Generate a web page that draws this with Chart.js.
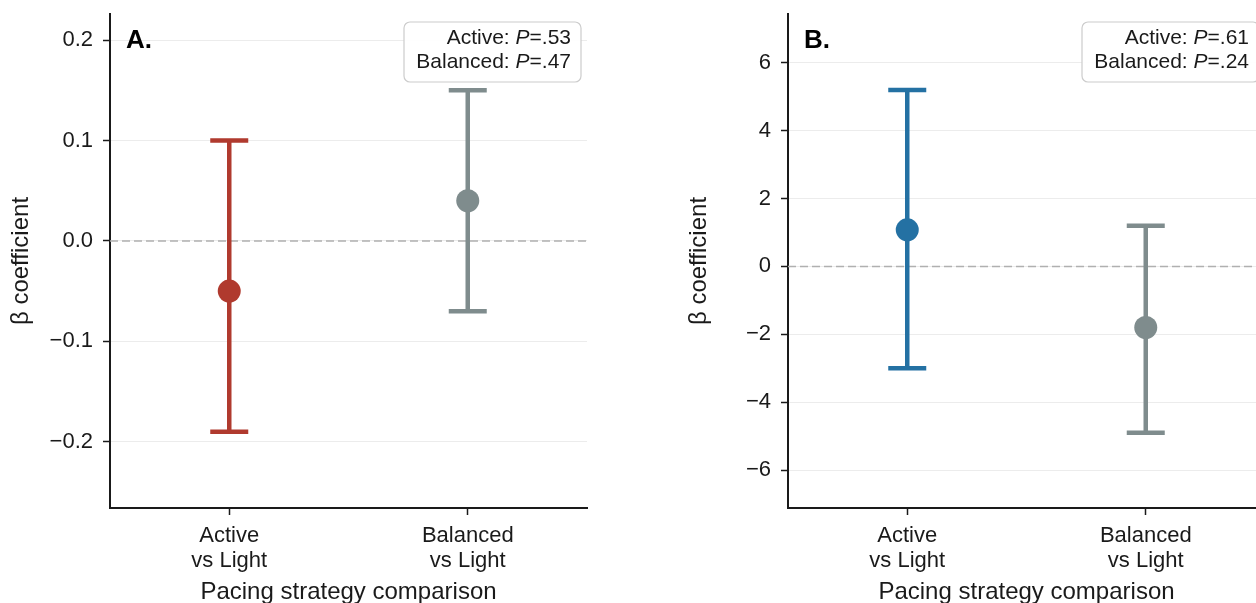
<!DOCTYPE html>
<html>
<head>
<meta charset="utf-8">
<script src="https://cdn.jsdelivr.net/npm/chart.js@4"></script>
<style>
  html, body { margin: 0; padding: 0; background: #fff; overflow: hidden; }
  body { width: 1256px; height: 603px; position: relative; }
  .panel { position: absolute; top: 0; width: 600px; height: 603px; }
  #panel-a { left: 0; }
  #panel-b { left: 678px; }
</style>
</head>
<body>
<div class="panel" id="panel-a"><canvas id="chart-a"></canvas></div>
<div class="panel" id="panel-b"><canvas id="chart-b"></canvas></div>
<script>
// categories shared by both panels
var categories = [['Active', 'vs Light'], ['Balanced', 'vs Light']];
var pLabels = ['Active', 'Balanced'];

// panel A
var estimateA = [-0.05, 0.04];
var lowerA = [-0.19, -0.07];
var upperA = [0.10, 0.15];
var pValuesA = ['.53', '.47'];
var yTicksA = [-0.2, -0.1, 0.0, 0.1, 0.2];

// panel B
var estimateB = [1.08, -1.8];
var lowerB = [-3.0, -4.9];
var upperB = [5.2, 1.2];
var pValuesB = ['.61', '.24'];
var yTicksB = [-6, -4, -2, 0, 2, 4, 6];

var FONT = '"Liberation Sans", Arial, sans-serif';
var INK = '#1a1a1a';

// whiskers + dashed zero line, drawn under the points
var errorBars = {
  id: 'errorBars',
  beforeDatasetsDraw: function(chart, args, opts) {
    var ctx = chart.ctx, x = chart.scales.x, y = chart.scales.y, area = chart.chartArea;
    ctx.save();
    var y0 = y.getPixelForValue(0);
    ctx.strokeStyle = '#b0b0b0';
    ctx.lineWidth = 1.5;
    ctx.setLineDash([8, 4]);
    ctx.beginPath();
    ctx.moveTo(area.left, y0);
    ctx.lineTo(area.right, y0);
    ctx.stroke();
    ctx.setLineDash([]);
    ctx.lineWidth = 4.5;
    opts.lower.forEach(function(lo, i) {
      var px = x.getPixelForValue(i);
      var top = y.getPixelForValue(opts.upper[i]);
      var bot = y.getPixelForValue(lo);
      ctx.strokeStyle = opts.colors[i];
      ctx.beginPath();
      ctx.moveTo(px, top); ctx.lineTo(px, bot);
      ctx.moveTo(px - 19, top); ctx.lineTo(px + 19, top);
      ctx.moveTo(px - 19, bot); ctx.lineTo(px + 19, bot);
      ctx.stroke();
    });
    ctx.restore();
  }
};

// panel letter and the p-value box
var annot = {
  id: 'annot',
  afterDraw: function(chart, args, opts) {
    var ctx = chart.ctx, area = chart.chartArea;
    ctx.save();
    ctx.font = 'bold 26px ' + FONT;
    ctx.fillStyle = '#000';
    ctx.textBaseline = 'middle';
    ctx.textAlign = 'left';
    ctx.fillText(opts.letter, area.left + 16, area.top + 27);

    var bw = 177, bh = 60;
    var bx = area.right - 6 - bw, by = area.top + 8;
    ctx.beginPath();
    ctx.roundRect(bx, by, bw, bh, 6);
    ctx.fillStyle = 'rgba(255,255,255,0.92)';
    ctx.fill();
    ctx.strokeStyle = '#cccccc';
    ctx.lineWidth = 1.2;
    ctx.stroke();

    var regular = '21px ' + FONT, italic = 'italic 21px ' + FONT;
    ctx.fillStyle = INK;
    ctx.textAlign = 'right';
    opts.labels.forEach(function(lab, i) {
      var parts = [[lab + ': ', regular], ['P', italic], ['=' + opts.pvals[i], regular]];
      var xr = area.right - 16, yy = area.top + 24 + i * 24;
      for (var k = parts.length - 1; k >= 0; k--) {
        ctx.font = parts[k][1];
        ctx.fillText(parts[k][0], xr, yy);
        xr -= ctx.measureText(parts[k][0]).width;
      }
    });
    ctx.restore();
  }
};

function makeChart(id, est, lo, hi, colors, yTicks, yMin, yMax, fmt, letter, pvals) {
  return new Chart(document.getElementById(id), {
    type: 'line',
    data: {
      labels: categories,
      datasets: [{
        data: est,
        showLine: false,
        pointRadius: 11.5,
        pointHoverRadius: 11.5,
        pointBorderWidth: 0,
        pointBackgroundColor: colors,
        pointBorderColor: colors
      }]
    },
    plugins: [errorBars, annot],
    options: {
      responsive: true, maintainAspectRatio: false,
      animation: false,
      devicePixelRatio: 1,
      layout: {padding: {left: 0, top: 14, right: 13, bottom: 0}},
      plugins: {
        legend: {display: false},
        tooltip: {enabled: false},
        errorBars: {lower: lo, upper: hi, colors: colors},
        annot: {letter: letter, labels: pLabels, pvals: pvals}
      },
      scales: {
        x: {
          type: 'category',
          offset: true,
          grid: {display: true, drawOnChartArea: false, tickLength: 7, tickColor: INK, tickWidth: 1.5},
          border: {color: INK, width: 2},
          ticks: {color: INK, font: {family: FONT, size: 22, lineHeight: 1.14}, padding: 8, maxRotation: 0, autoSkip: false},
          title: {display: true, text: 'Pacing strategy comparison', color: INK,
                  font: {family: FONT, size: 24, lineHeight: 0.9}, padding: 0},
          afterFit: function(s) { s.height = 95; s.paddingLeft = 0; s.paddingRight = 0; }
        },
        y: {
          min: yMin, max: yMax,
          afterBuildTicks: function(s) { s.ticks = yTicks.map(function(v) { return {value: v}; }); },
          grid: {color: '#ececec', lineWidth: 1, tickLength: 7, tickColor: INK, tickWidth: 1.5},
          border: {color: INK, width: 2},
          ticks: {color: INK, font: {family: FONT, size: 22}, padding: 10, callback: fmt},
          title: {display: true, text: 'β coefficient', color: INK,
                  font: {family: FONT, size: 24, lineHeight: 1.2}, padding: {top: 7, bottom: 0}},
          afterFit: function(s) { s.width = 110; s.paddingTop = 0; s.paddingBottom = 0; }
        }
      }
    }
  });
}

makeChart('chart-a', estimateA, lowerA, upperA, ['#B03A2E', '#7F8C8D'], yTicksA, -0.266, 0.226,
  function(v) { return Number(v).toFixed(1).replace('-', '\u2212'); }, 'A.', pValuesA);

makeChart('chart-b', estimateB, lowerB, upperB, ['#2471A3', '#7F8C8D'], yTicksB, -7.12, 7.44,
  function(v) { return String(v).replace('-', '\u2212'); }, 'B.', pValuesB);
</script>
</body>
</html>
